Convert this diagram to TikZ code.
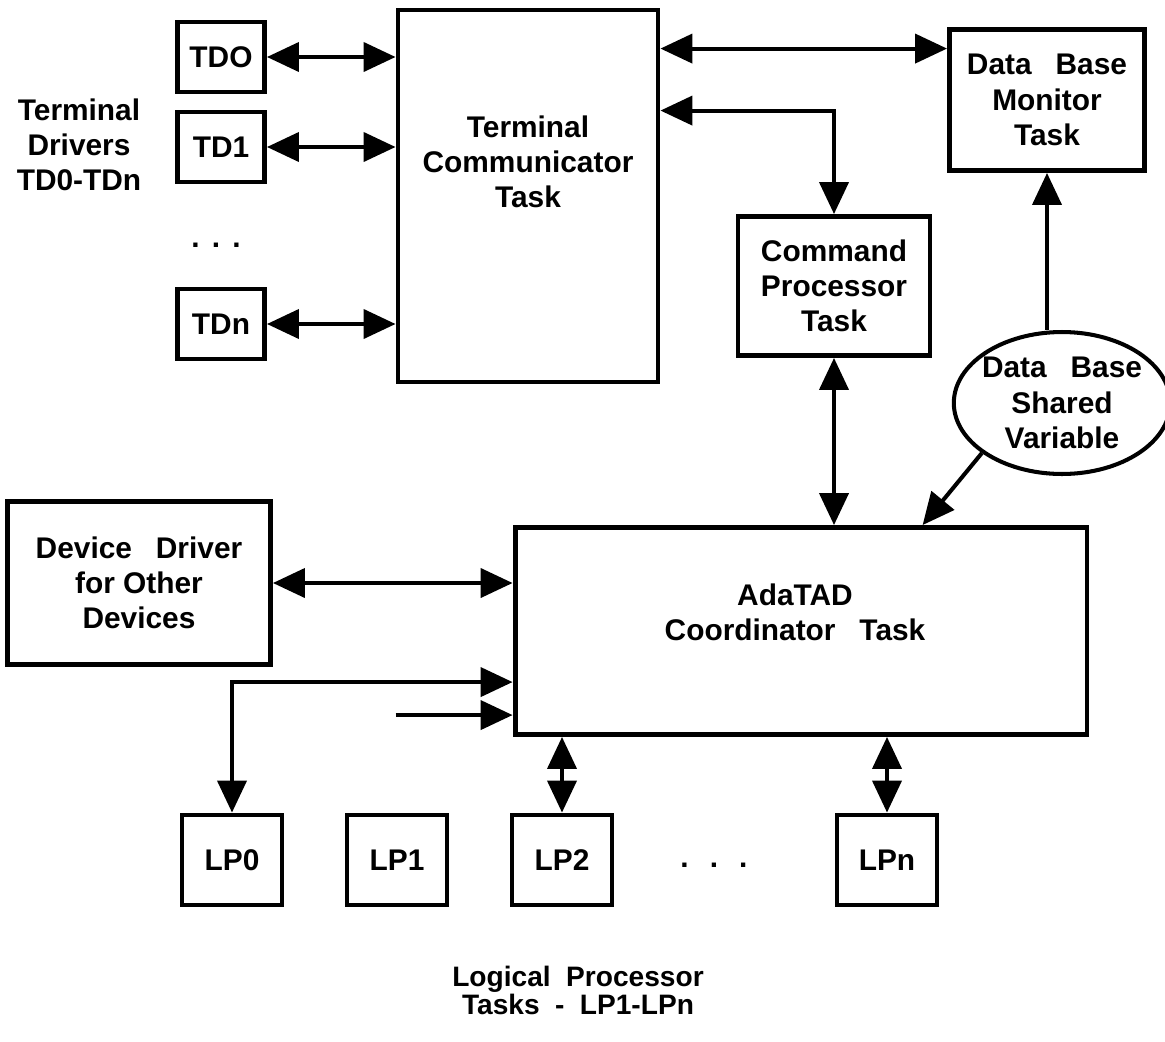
\documentclass[tikz,border=0pt]{standalone}
\usepackage{fontspec}
\setmainfont{Liberation Sans}
\usetikzlibrary{arrows.meta,shapes.geometric,calc}
\newcommand{\wsp}{\hspace{0.8em}}

\begin{document}
\begin{tikzpicture}[x=0.02cm, y=-0.02cm,
    every node/.style={font=\bfseries\fontsize{17}{20}\selectfont, align=center},
    box/.style={draw, line width=2.8pt, inner sep=0pt},
    tdbox/.style={box, minimum width=1.74cm, minimum height=1.4cm},
    lpbox/.style={box, minimum width=2cm, minimum height=1.8cm},
    link/.style={line width=2.3pt},
    >={Triangle[length=0.64cm, width=0.58cm]}]
        \useasboundingbox (0,0) rectangle (1165,1041);

        % Terminal drivers
        \foreach \n/\y/\lbl in {0/57/TDO, 1/147/TD1, n/324/TDn} {
            \node[tdbox] (TD\n) at (221,\y) {\lbl};
        }
        \node (TDdots) at (216,245) {.\hspace{7pt}.\hspace{7pt}.};
        \node (TDlabel) at (79,145) {Terminal\\Drivers\\TD0-TDn};

        % Terminal communicator
        \node[box, minimum width=5.2cm, minimum height=7.44cm] (TC) at (528,196) {};
        \node (TCtext) at (528,162) {Terminal\\Communicator\\Task};

        % Monitor and command processor
        \node[box, minimum width=3.9cm, minimum height=2.82cm] (DBM) at (1047,100) {Data\wsp Base\\Monitor\\Task};
        \node[box, minimum width=3.84cm, minimum height=2.78cm] (CP) at (834,286) {Command\\Processor\\Task};
        \node[draw, ellipse, line width=2.3pt, inner sep=-2pt, minimum width=4.12cm, minimum height=2.84cm] (DBSV) at (1062,403) {Data\wsp Base\\Shared\\Variable};

        % Coordinator and device driver
        \node[box, minimum width=11.44cm, minimum height=4.14cm] (Ada) at (801,631) {};
        \node (Adatext) at (795,612) {AdaTAD\\Coordinator\wsp Task};
        \node[box, minimum width=5.26cm, minimum height=3.26cm] (DD) at (139,583) {Device\wsp Driver\\for Other\\Devices};

        % Logical processors
        \foreach \n/\x in {0/232, 1/397, 2/562, n/887} {
            \node[lpbox] (LP\n) at (\x,860) {LP\n};
        }
        \node (LPdots) at (714,865) {.\hspace{12pt}.\hspace{12pt}.};
        \node[font=\bfseries\fontsize{16}{14}\selectfont] (LPlabel) at (578,990) {Logical\hspace{0.55em}Processor\\Tasks\hspace{0.55em}-\hspace{0.55em}LP1-LPn};

        % Drivers to communicator
        \foreach \n in {0,1,n} {
            \draw[link, <->] (TD\n.east) -- (TD\n.east -| TC.west);
        }

        % Communicator to monitor and command processor
        \coordinate (tcA) at ($(TC.north east)+(0,41)$);
        \coordinate (tcB) at ($(TC.north east)+(0,103)$);
        \draw[link, <->] (tcA) -- (tcA -| DBM.west);
        \draw[link, <->] (tcB) -| (CP.north);
        \draw[link, <->] (CP.south) -- (CP.south |- Ada.north);

        % Shared variable
        \draw[link, ->] (DBM.south |- DBSV.north) -- (DBM.south);
        \draw[link, ->] (DBSV.212) -- ($(Ada.north west)+(410,0)$);

        % Coordinator connections
        \draw[link, <->] (DD.east) -- (DD.east -| Ada.west);
        \coordinate (lpin) at ($(Ada.north west)+(0,157)$);
        \coordinate (extin) at ($(Ada.north west)+(-117,190)$);
        \draw[link, <->] (LP0.north) |- (lpin);
        \draw[link, ->] (extin) -- (extin -| Ada.west);
        \draw[link, <->] (LP2.north) -- (LP2.north |- Ada.south);
        \draw[link, <->] (LPn.north) -- (LPn.north |- Ada.south);
    \end{tikzpicture}
\end{document}
